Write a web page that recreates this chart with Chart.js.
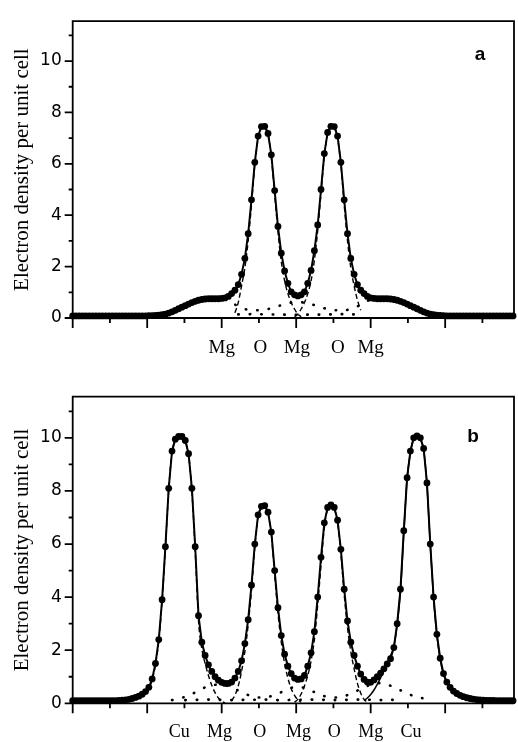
<!DOCTYPE html>
<html>
<head>
<meta charset="utf-8">
<script src="https://cdn.jsdelivr.net/npm/chart.js@4.4.0/dist/chart.umd.min.js"></script>
<style>
  html, body { margin: 0; padding: 0; background: #fff; }
  .panel { position: absolute; left: 0; width: 518px; }
  #wrapA { top: 0; height: 370px; }
  #wrapB { top: 370px; height: 372px; }
</style>
</head>
<body>
<div class="panel" id="wrapA"><canvas id="chartA" width="518" height="370"></canvas></div>
<div class="panel" id="wrapB"><canvas id="chartB" width="518" height="372"></canvas></div>
<script>
// sampling step of the measured points (x in tick units)
const STEP = 1 / 22.5;

const yTickVals = [0, 2, 4, 6, 8, 10];
const yMinorVals = [1, 3, 5, 7, 9, 11];
const xMajorVals = [0, 1, 2, 3, 4, 5];
const xMinorVals = [0.5, 1.5, 2.5, 3.5, 4.5, 5.5];

// panel a
const aLabels = ['Mg', 'O', 'Mg', 'O', 'Mg'];
const aLabelPos = [2.0, 2.52, 3.01, 3.56, 4.0];
const aTotal = [
  0.08, 0.08, 0.08, 0.08, 0.08, 0.08, 0.08, 0.08, 0.08, 0.08,
  0.08, 0.08, 0.08, 0.08, 0.08, 0.08, 0.08, 0.08, 0.08, 0.08,
  0.08, 0.08, 0.08, 0.09, 0.09, 0.1, 0.11, 0.13, 0.15, 0.19,
  0.24, 0.3, 0.36, 0.42, 0.48, 0.54, 0.6, 0.65, 0.69, 0.72,
  0.74, 0.75, 0.75, 0.75, 0.75, 0.76, 0.78, 0.84, 0.95, 1.08,
  1.3, 1.7, 2.32, 3.28, 4.6, 6.06, 7.08, 7.45, 7.46, 7.18,
  6.35, 4.96, 3.56, 2.52, 1.83, 1.35, 1.02, 0.9, 0.86, 0.9,
  1.02, 1.35, 1.85, 2.62, 3.62, 5.0, 6.4, 7.22, 7.46, 7.45,
  7.08, 6.06, 4.6, 3.28, 2.32, 1.7, 1.3, 1.08, 0.95, 0.84,
  0.78, 0.76, 0.75, 0.75, 0.75, 0.75, 0.74, 0.72, 0.69, 0.65,
  0.6, 0.54, 0.48, 0.42, 0.36, 0.3, 0.24, 0.19, 0.15, 0.13,
  0.11, 0.1, 0.09, 0.08, 0.08, 0.08, 0.08, 0.08, 0.08, 0.08,
  0.08, 0.08, 0.08, 0.08, 0.08, 0.08, 0.08, 0.08, 0.08, 0.08,
  0.08, 0.08, 0.08, 0.08
];
const aO1Start = 49;
const aO1 = [0.2, 0.6, 1.25, 1.95, 3.0, 4.4, 5.95, 7.0, 7.42, 7.44, 7.15, 6.25, 4.8, 3.35, 2.2, 1.45, 0.95, 0.6, 0.35, 0.15, 0.05];
const aO2Start = 67;
const aO2 = [0.05, 0.15, 0.35, 0.6, 0.95, 1.45, 2.25, 3.4, 4.85, 6.3, 7.15, 7.44, 7.42, 7.0, 5.95, 4.4, 3.0, 1.95, 1.25, 0.7, 0.3];
const aMgStart = 46; // every 2nd point
const aMg = [0.72, 0.6, 0.45, 0.35, 0.3, 0.3, 0.32, 0.38, 0.46, 0.54, 0.6, 0.62, 0.6, 0.54, 0.46, 0.38, 0.32, 0.3, 0.3, 0.35, 0.45, 0.6, 0.72];
const aLowStart = 50;
const aLow = [0.14, 0.14, 0.15, 0.15, 0.14, 0.14, 0.13, 0.13, 0.13, 0.12, 0.13, 0.13, 0.13, 0.14, 0.14, 0.15, 0.15, 0.14, 0.14];

// panel b
const bLabels = ['Cu', 'Mg', 'O', 'Mg', 'O', 'Mg', 'Cu'];
const bLabelPos = [1.43, 1.97, 2.51, 3.03, 3.51, 4.0, 4.54];
const bTotal = [
  0.1, 0.1, 0.1, 0.1, 0.1, 0.1, 0.1, 0.1, 0.1, 0.1,
  0.1, 0.1, 0.1, 0.1, 0.11, 0.12, 0.13, 0.15, 0.18, 0.22,
  0.27, 0.34, 0.44, 0.6, 0.92, 1.5, 2.4, 3.9, 5.9, 8.1,
  9.5, 9.95, 10.05, 10.05, 9.9, 9.4, 8.1, 5.9, 3.3, 2.3,
  1.8, 1.45, 1.2, 1.0, 0.87, 0.79, 0.75, 0.75, 0.8, 0.95,
  1.2, 1.6, 2.25, 3.15, 4.45, 6.0, 7.1, 7.42, 7.45, 7.2,
  6.45, 5.0, 3.6, 2.55, 1.85, 1.4, 1.12, 0.95, 0.9, 0.92,
  1.05, 1.4, 1.9, 2.7, 4.0, 5.5, 6.8, 7.38, 7.47, 7.38,
  6.9, 5.8, 4.3, 3.1, 2.3, 1.8, 1.4, 1.1, 0.9, 0.8,
  0.79, 0.88, 1.0, 1.14, 1.3, 1.48, 1.68, 2.1, 3.0, 4.3,
  6.5, 8.5, 9.5, 10.0, 10.07, 10.0, 9.6, 8.3, 6.0, 4.0,
  2.6, 1.7, 1.12, 0.8, 0.6, 0.46, 0.37, 0.3, 0.25, 0.21,
  0.18, 0.16, 0.14, 0.13, 0.12, 0.11, 0.11, 0.11, 0.1, 0.1,
  0.1, 0.1, 0.1, 0.1
];
const bCuLStart = 20;
const bCuL = [0.24, 0.31, 0.41, 0.56, 0.88, 1.45, 2.35, 3.85, 5.85, 8.05, 9.45, 9.92, 10.03, 10.03, 9.87, 9.35, 8.0, 5.75, 3.1, 2.05, 1.5, 1.05, 0.68, 0.4, 0.2, 0.08, 0.02];
const bO1Start = 48;
const bO1 = [0.1, 0.3, 0.65, 1.2, 1.95, 2.95, 4.25, 5.85, 7.0, 7.38, 7.42, 7.15, 6.35, 4.85, 3.4, 2.3, 1.5, 0.95, 0.55, 0.3, 0.13, 0.04];
const bO2Start = 67;
const bO2 = [0.04, 0.15, 0.35, 0.65, 1.05, 1.6, 2.4, 3.7, 5.2, 6.6, 7.32, 7.44, 7.34, 6.8, 5.65, 4.1, 2.85, 1.95, 1.3, 0.75, 0.38, 0.15, 0.04];
const bCuRStart = 88;
const bCuR = [0.1, 0.2, 0.33, 0.5, 0.72, 0.96, 1.25, 1.55, 1.8, 2.15, 2.95, 4.2, 6.4, 8.45, 9.45, 9.97, 10.05, 9.97, 9.55, 8.25, 5.95, 3.95, 2.55, 1.65, 1.08, 0.78, 0.58];
const bMgStart = 30; // every 2nd point
const bMg = [0.12, 0.17, 0.25, 0.35, 0.48, 0.6, 0.68, 0.7, 0.68, 0.6, 0.48, 0.36, 0.27, 0.22, 0.22, 0.27, 0.36, 0.48, 0.58, 0.62, 0.58, 0.48, 0.36, 0.27, 0.22, 0.22, 0.27, 0.36, 0.48, 0.6, 0.7, 0.76, 0.74, 0.66, 0.55, 0.43, 0.32, 0.24, 0.18];
const bLowStart = 34;
const bLow = [0.12, 0.13, 0.13, 0.14, 0.14, 0.13, 0.13, 0.12, 0.12, 0.13, 0.13, 0.14, 0.14, 0.13, 0.12, 0.12, 0.13, 0.13, 0.14, 0.14, 0.13, 0.13, 0.12, 0.12, 0.13, 0.13, 0.14, 0.14, 0.13, 0.12, 0.12, 0.13, 0.13];

function series(start, vals, every) {
  return vals.map((v, k) => ({ x: (start + k * every) * STEP, y: v }));
}

function measured(data) {
  return { data: data, borderColor: '#000', borderWidth: 2, pointRadius: 3.4, pointBackgroundColor: '#000',
           pointBorderWidth: 0, tension: 0, order: 0, clip: 8 };
}
function dashed(data) {
  return { data: data, borderColor: '#000', borderWidth: 1.4, borderDash: [5, 3], pointRadius: 0,
           cubicInterpolationMode: 'monotone', order: 1 };
}
function solid(data) {
  return { data: data, borderColor: '#000', borderWidth: 1.5, pointRadius: 0,
           cubicInterpolationMode: 'monotone', order: 1 };
}
function dotted(data) {
  return { data: data, borderColor: '#000', borderWidth: 2.6, borderDash: [0.5, 11], borderCapStyle: 'round',
           pointRadius: 0, cubicInterpolationMode: 'monotone', order: 2 };
}

function framePlugin(p) {
  return {
    id: 'frame',
    afterDraw(chart) {
      const { ctx, chartArea: ca, scales: { x, y } } = chart;
      ctx.save();
      ctx.strokeStyle = '#000';
      ctx.lineWidth = 1.8;
      ctx.beginPath();
      ctx.moveTo(ca.left, ca.bottom + 10);
      ctx.lineTo(ca.left, ca.top);
      ctx.lineTo(ca.right, ca.top);
      ctx.lineTo(ca.right, ca.bottom);
      ctx.moveTo(ca.left, ca.bottom);
      ctx.lineTo(ca.right, ca.bottom);
      yTickVals.forEach(v => { const py = y.getPixelForValue(v); ctx.moveTo(ca.left - 8, py); ctx.lineTo(ca.left, py); });
      yMinorVals.forEach(v => { const py = y.getPixelForValue(v); ctx.moveTo(ca.left - 4, py); ctx.lineTo(ca.left, py); });
      xMajorVals.forEach(v => { const px = x.getPixelForValue(v); ctx.moveTo(px, ca.bottom); ctx.lineTo(px, ca.bottom + 10); });
      xMinorVals.forEach(v => { const px = x.getPixelForValue(v); ctx.moveTo(px, ca.bottom); ctx.lineTo(px, ca.bottom + 5); });
      ctx.stroke();

      ctx.fillStyle = '#000';
      ctx.textAlign = 'center';
      ctx.textBaseline = 'alphabetic';
      ctx.font = p.labelFont;
      p.labels.forEach((t, k) => ctx.fillText(t, x.getPixelForValue(p.labelPos[k]), p.labelBase));
      ctx.font = 'bold 19px "Liberation Sans", Arial, sans-serif';
      ctx.textBaseline = 'middle';
      ctx.fillText(p.letter, p.letterX, p.letterY);
      ctx.restore();
    }
  };
}

function makeChart(id, p) {
  new Chart(document.getElementById(id).getContext('2d'), {
    type: 'line',
    data: { datasets: p.datasets },
    options: {
      responsive: false,
      animation: false,
      events: [],
      layout: { padding: { top: p.top, right: 1, left: 0, bottom: 0 } },
      plugins: { legend: { display: false }, tooltip: { enabled: false } },
      scales: {
        x: {
          type: 'linear', min: 0, max: 5.924,
          grid: { display: false, drawTicks: false },
          border: { display: false },
          ticks: { display: false },
          afterFit: s => { s.height = p.xHeight; }
        },
        y: {
          type: 'linear', min: 0, max: 11.55,
          grid: { display: false, drawTicks: false },
          border: { display: false },
          afterBuildTicks: s => { s.ticks = yTickVals.map(v => ({ value: v })); },
          afterFit: s => { s.width = 72.7; },
          ticks: { color: '#000', padding: 11, font: { family: '"DejaVu Sans", Arial, sans-serif', size: 17 } },
          title: {
            display: true,
            text: 'Electron density per unit cell',
            color: '#000',
            padding: { top: 10, bottom: 0 },
            font: { family: '"Liberation Serif", "Times New Roman", serif', size: 21 }
          }
        }
      }
    },
    plugins: [framePlugin(p)]
  });
}

makeChart('chartA', {
  top: 15, xHeight: 52,
  labels: aLabels, labelPos: aLabelPos, labelBase: 353,
  labelFont: '19px "Liberation Serif", "Times New Roman", serif',
  letter: 'a', letterX: 480, letterY: 55,
  datasets: [
    measured(series(0, aTotal, 1)),
    dashed(series(aO1Start, aO1, 1)),
    dashed(series(aO2Start, aO2, 1)),
    dotted(series(aMgStart, aMg, 2)),
    dotted(series(aLowStart, aLow, 2))
  ]
});

makeChart('chartB', {
  top: 26.7, xHeight: 38.7,
  labels: bLabels, labelPos: bLabelPos, labelBase: 366.7,
  labelFont: '18px "Liberation Serif", "Times New Roman", serif',
  letter: 'b', letterX: 473, letterY: 67,
  datasets: [
    measured(series(0, bTotal, 1)),
    dashed(series(bCuLStart, bCuL, 1)),
    dashed(series(bO1Start, bO1, 1)),
    dashed(series(bO2Start, bO2, 1)),
    solid(series(bCuRStart, bCuR, 1)),
    dotted(series(bMgStart, bMg, 2)),
    dotted(series(bLowStart, bLow, 2))
  ]
});
</script>
</body>
</html>
